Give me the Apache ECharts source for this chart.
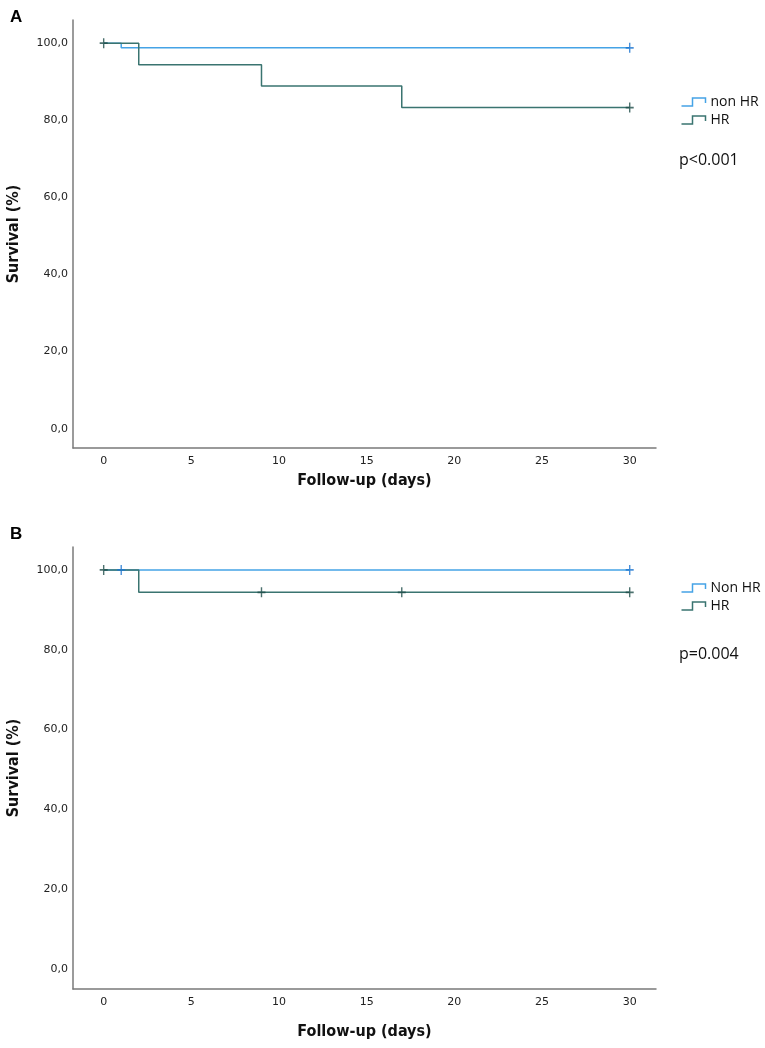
<!DOCTYPE html>
<html>
<head>
<meta charset="utf-8">
<script src="https://cdn.jsdelivr.net/npm/echarts@6/dist/echarts.min.js"></script>
<style>
  html, body { margin: 0; padding: 0; background: #fff; }
  #chart { width: 765px; height: 1048px; }
</style>
</head>
<body>
<div id="chart"></div>
<script>
// ticks
const dayTicks = [0, 5, 10, 15, 20, 25, 30];
const survTicks = [0, 20, 40, 60, 80, 100];

// panel A, Kaplan-Meier steps
const nonA_days = [0, 1, 30];
const nonA_surv = [100, 98.8, 98.8];
const hrA_days = [0, 2, 9, 17, 30];
const hrA_surv = [100, 94.4, 88.9, 83.3, 83.3];
// panel A, censored marks
const nonA_censDays = [30];
const nonA_censSurv = [98.8];
const hrA_censDays = [0, 30];
const hrA_censSurv = [100, 83.3];

// panel B
const nonB_days = [0, 30];
const nonB_surv = [100, 100];
const hrB_days = [0, 2, 30];
const hrB_surv = [100, 94.4, 94.4];
const nonB_censDays = [1, 30];
const nonB_censSurv = [100, 100];
const hrB_censDays = [0, 9, 17, 30];
const hrB_censSurv = [100, 94.4, 94.4, 94.4];

const blue = '#45a3e6', blueDark = '#1c74d0';
const teal = '#3a7470', tealDark = '#1f4d4a';
const plus = 'path://M3.3,0H4.7V3.3H8V4.7H4.7V8H3.3V4.7H0V3.3H3.3Z';
const stepIcon = 'path://M0,8L11,8L11,0L24,0L24,5';

const pairs = (xs, ys) => xs.map((x, i) => [x, ys[i]]);

function stepSeries(name, idx, xs, ys, color) {
  return {
    name: name, type: 'line', step: 'end',
    xAxisIndex: idx, yAxisIndex: idx,
    data: pairs(xs, ys), showSymbol: false, silent: true,
    lineStyle: { color: color, width: 1.5 }, itemStyle: { color: color }
  };
}
function censSeries(name, idx, xs, ys, color) {
  return {
    name: name, type: 'scatter',
    xAxisIndex: idx, yAxisIndex: idx,
    data: pairs(xs, ys), symbol: plus, symbolSize: [8, 10], silent: true,
    itemStyle: { color: color }, z: 5
  };
}

const tickFont = { fontFamily: 'DejaVu Sans', fontSize: 11, color: '#222' };
const nameFont = { fontFamily: 'DejaVu Sans Condensed, Open Sans', fontWeight: 'bold', fontSize: 16, color: '#111' };

function xAxis(idx, gap) {
  return {
    type: 'value', gridIndex: idx, min: -1.75, max: 31.5,
    name: 'Follow-up (days)', nameLocation: 'middle', nameGap: gap, nameTextStyle: nameFont,
    splitLine: { show: false }, axisTick: { show: false },
    axisLine: { onZero: false, lineStyle: { color: '#7a7a7a', width: 1.5 } },
    axisLabel: Object.assign({ customValues: dayTicks, margin: 8 }, tickFont)
  };
}
function yAxis(idx, max) {
  return {
    type: 'value', gridIndex: idx, min: -5, max: max,
    name: 'Survival (%)', nameLocation: 'middle', nameGap: 51, nameTextStyle: nameFont,
    splitLine: { show: false }, axisTick: { show: false },
    axisLine: { show: true, onZero: false, lineStyle: { color: '#7a7a7a', width: 1.5 } },
    axisLabel: Object.assign({ customValues: survTicks, margin: 5,
      formatter: v => v.toFixed(1).replace('.', ',') }, tickFont)
  };
}
function legendItem(name, color) {
  return { name: name, icon: stepIcon,
    itemStyle: { color: 'none', borderColor: color, borderWidth: 1.5 } };
}
const legendText = { fontFamily: 'Open Sans', fontSize: 14, color: '#111', lineHeight: 16 };

const chart = echarts.init(document.getElementById('chart'), null, { renderer: 'canvas' });
chart.setOption({
  animation: false,
  backgroundColor: '#fff',
  title: [
    { text: 'A', left: 5, top: 4, textStyle: { fontFamily: 'Liberation Sans', fontWeight: 'bold', fontSize: 17, color: '#000' } },
    { text: 'B', left: 5, top: 521, textStyle: { fontFamily: 'Liberation Sans', fontWeight: 'bold', fontSize: 17, color: '#000' } }
  ],
  grid: [
    { left: 73, top: 20, width: 583, height: 428, outerBoundsMode: 'none', containLabel: false },
    { left: 73, top: 547, width: 583, height: 442, outerBoundsMode: 'none', containLabel: false }
  ],
  xAxis: [xAxis(0, 25), xAxis(1, 35)],
  yAxis: [yAxis(0, 106), yAxis(1, 105.75)],
  legend: [
    { orient: 'vertical', left: 677, top: 92, itemWidth: 24, itemHeight: 8, itemGap: 2, padding: 2,
      selectedMode: false, textStyle: legendText,
      data: [legendItem('non HR', blue), legendItem('HR', teal)] },
    { orient: 'vertical', left: 677, top: 578, itemWidth: 24, itemHeight: 8, itemGap: 2, padding: 2,
      selectedMode: false, textStyle: legendText,
      data: [legendItem('Non HR', blue), legendItem('HR', teal)] }
  ],
  graphic: [
    { type: 'text', left: 679, top: 152, style: { text: 'p<0.001', font: '16px "Open Sans"', fill: '#111' } },
    { type: 'text', left: 679, top: 646, style: { text: 'p=0.004', font: '16px "Open Sans"', fill: '#111' } }
  ],
  series: [
    stepSeries('non HR', 0, nonA_days, nonA_surv, blue),
    stepSeries('HR', 0, hrA_days, hrA_surv, teal),
    censSeries('non HR censored', 0, nonA_censDays, nonA_censSurv, blueDark),
    censSeries('HR censored', 0, hrA_censDays, hrA_censSurv, tealDark),
    stepSeries('Non HR', 1, nonB_days, nonB_surv, blue),
    stepSeries('HR', 1, hrB_days, hrB_surv, teal),
    censSeries('Non HR censored', 1, nonB_censDays, nonB_censSurv, blueDark),
    censSeries('HR censored B', 1, hrB_censDays, hrB_censSurv, tealDark)
  ]
});
</script>
</body>
</html>
